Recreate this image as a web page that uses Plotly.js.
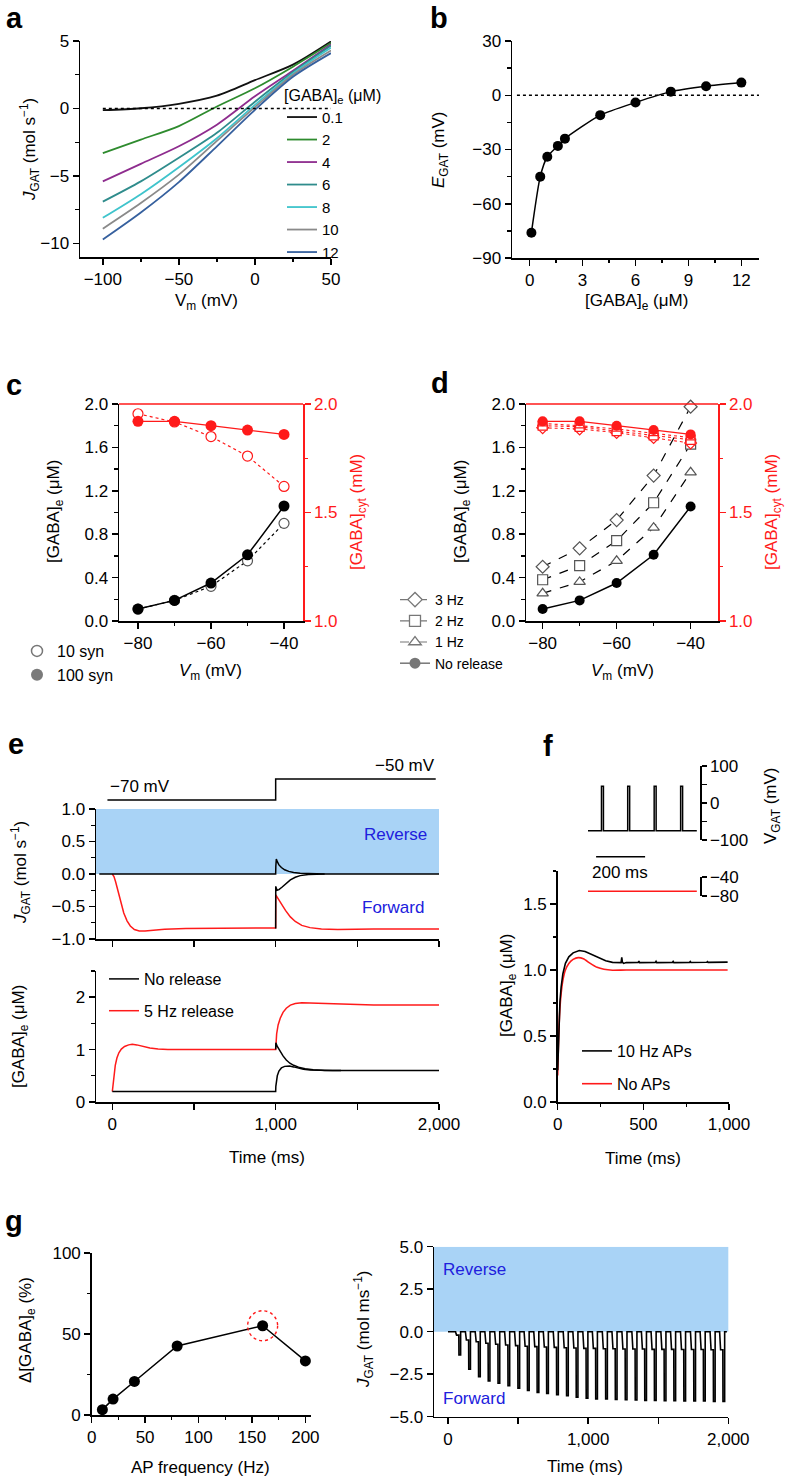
<!DOCTYPE html>
<html>
<head>
<meta charset="utf-8">
<script src="https://cdn.plot.ly/plotly-3.0.1.min.js"></script>
<style>html,body{margin:0;padding:0;background:#fff}#chart{width:786px;height:1480px}</style>
</head>
<body>
<div id="chart"></div>
<script>
// ---------------- DATA ----------------
// Panel a: J_GAT vs Vm for several [GABA]e
const aVm = [-100, -75, -50, -25, 0, 25, 50];
const aGabaLabels = ['0.1', '2', '4', '6', '8', '10', '12'];
const aJ01 = [-0.12, 0.02, 0.35, 0.95, 2.1, 3.25, 4.97];
const aJ2  = [-3.3, -2.3, -1.3, 0.15, 1.5, 3.1, 4.85];
const aJ4  = [-5.4, -4.1, -2.8, -1.2, 0.9, 2.8, 4.75];
const aJ6  = [-6.9, -5.4, -3.65, -1.8, 0.5, 2.7, 4.65];
const aJ8  = [-8.1, -6.35, -4.35, -2.2, 0.27, 2.6, 4.5];
const aJ10 = [-8.9, -7.0, -4.9, -2.4, 0.1, 2.5, 4.3];
const aJ12 = [-9.7, -7.7, -5.45, -2.8, -0.1, 2.35, 4.1];

// Panel b: E_GAT vs [GABA]e
const bGaba = [0.1, 0.6, 1, 1.6, 2, 4, 6, 8, 10, 12];
const bEgat = [-76, -45, -34, -28, -24, -11, -4, 2, 5, 7];

// Panel c
const cVm = [-80, -70, -60, -50, -40];
const cGabaE100 = [0.11, 0.19, 0.35, 0.61, 1.06];
const cGabaE10  = [0.11, 0.19, 0.32, 0.555, 0.90];
const cCyt100   = [1.92, 1.92, 1.90, 1.88, 1.86];
const cCyt10    = [1.955, 1.917, 1.85, 1.76, 1.62];

// Panel d
const dVm = [-80, -70, -60, -50, -40];
const dNoRel = [0.11, 0.19, 0.35, 0.61, 1.055];
const d1Hz = [0.255, 0.36, 0.555, 0.86, 1.37];
const d2Hz = [0.38, 0.51, 0.74, 1.09, 1.63];
const d3Hz = [0.50, 0.67, 0.93, 1.34, 1.975];
const dCytNoRel = [1.92, 1.92, 1.90, 1.88, 1.86];
const dCyt1Hz = [1.91, 1.90, 1.885, 1.865, 1.845];
const dCyt2Hz = [1.90, 1.895, 1.875, 1.855, 1.835];
const dCyt3Hz = [1.89, 1.885, 1.868, 1.845, 1.82];

// Panel e: voltage step
const eStepT = [-30, 1000, 1000, 1980];
const eStepV = [-70, -70, -50, -50];
// Panel e upper: J_GAT
const eJBlackT = [-80, 1000, 1001, 1004, 1010, 1020, 1035, 1055, 1080, 1110, 1150, 1200, 1300, 2000];
const eJBlackY = [0, 0, 0.12, 0.23, 0.19, 0.14, 0.1, 0.065, 0.04, 0.022, 0.01, 0.003, 0, 0];
const eJBlack2T = [1000, 1000.5, 1008, 1020, 1040, 1065, 1090, 1120, 1150, 1200, 1300];
const eJBlack2Y = [-0.84, -0.19, -0.25, -0.24, -0.2, -0.14, -0.09, -0.05, -0.025, -0.008, 0];
const eJRedT = [0, 10, 20, 30, 40, 55, 70, 90, 110, 135, 165, 200, 250, 320, 450, 1000, 1000.5, 1015, 1035, 1060, 1090, 1120, 1160, 1210, 1280, 1380, 1600, 2000];
const eJRedY = [0, -0.04, -0.12, -0.22, -0.32, -0.46, -0.6, -0.72, -0.8, -0.855, -0.875, -0.875, -0.865, -0.85, -0.838, -0.83, -0.32, -0.38, -0.46, -0.56, -0.66, -0.73, -0.79, -0.825, -0.845, -0.852, -0.848, -0.845];
// Panel e lower: [GABA]e
const eGNoRelT = [0, 1000, 1001, 1005, 1010, 1020, 1035, 1055, 1085, 1110, 1140, 1170, 1210, 1270, 1350, 2000];
const eGNoRelY = [0.2, 0.2, 0.3, 0.42, 0.5, 0.59, 0.65, 0.68, 0.685, 0.67, 0.645, 0.625, 0.61, 0.602, 0.6, 0.6];
const eGBlack2T = [1000, 1001, 1010, 1025, 1045, 1065, 1087, 1110, 1140, 1180, 1230, 1300, 1400];
const eGBlack2Y = [1.0, 1.13, 1.06, 0.97, 0.88, 0.8, 0.74, 0.7, 0.665, 0.635, 0.615, 0.603, 0.6];
const eGRedT = [0, 5, 10, 18, 28, 40, 55, 75, 100, 122, 150, 185, 230, 280, 340, 1000, 1001, 1006, 1015, 1028, 1045, 1065, 1090, 1120, 1160, 1220, 1300, 1400, 1600, 2000];
const eGRedY = [0.2, 0.38, 0.53, 0.7, 0.84, 0.94, 1.01, 1.06, 1.09, 1.1, 1.09, 1.06, 1.03, 1.01, 1.0, 1.0, 1.1, 1.3, 1.47, 1.6, 1.71, 1.79, 1.85, 1.88, 1.895, 1.89, 1.875, 1.862, 1.853, 1.85];

// Panel f inset: AP train
const fSpikeT = [55, 162, 270, 378];
const fVrest = -75, fVpeak = 45, fTraceEnd = 444;
const fNoApV = -70;
// Panel f main
const fBlackT = [0, 4, 8, 13, 20, 30, 45, 65, 90, 126, 160, 200, 240, 280, 320, 360, 370, 374, 378, 385, 400, 470, 474, 478, 570, 574, 578, 670, 674, 678, 770, 774, 778, 870, 874, 878, 992];
const fBlackY = [0.24, 0.46, 0.62, 0.76, 0.87, 0.97, 1.05, 1.1, 1.13, 1.148, 1.14, 1.115, 1.09, 1.07, 1.058, 1.055, 1.056, 1.095, 1.058, 1.05, 1.056, 1.058, 1.068, 1.056, 1.058, 1.066, 1.056, 1.058, 1.065, 1.056, 1.058, 1.064, 1.057, 1.059, 1.064, 1.058, 1.06];
const fRedT = [0, 4, 8, 13, 20, 30, 45, 65, 90, 120, 150, 190, 230, 270, 320, 400, 992];
const fRedY = [0.2, 0.42, 0.58, 0.71, 0.82, 0.92, 1.0, 1.05, 1.08, 1.094, 1.085, 1.05, 1.02, 1.005, 0.998, 1.0, 1.0];

// Panel g left
const gFreq = [10, 20, 40, 80, 160, 200];
const gDelta = [3.3, 9.8, 20.7, 42.6, 55.1, 33.4];
// Panel g right: spike train of J_GAT
const gSpikeT = [78, 148, 218, 287, 357, 428, 499, 567, 636, 704, 775, 846, 915, 986, 1054, 1125, 1194, 1265, 1336, 1404, 1473, 1543, 1612, 1683, 1754, 1823, 1894, 1962];
const gSpikeDepth = [-1.37, -2.21, -2.64, -2.89, -3.03, -3.18, -3.32, -3.46, -3.57, -3.63, -3.71, -3.77, -3.85, -3.91, -3.95, -3.96, -3.98, -4.0, -4.02, -4.04, -4.04, -4.06, -4.06, -4.08, -4.08, -4.08, -4.1, -4.1];
const gPlateau = [-0.2, -0.49, -0.59, -0.68, -0.74, -0.78, -0.82, -0.86, -0.88, -0.9, -0.92, -0.94, -0.96, -0.98, -0.98, -1.0, -1.0, -1.02, -1.02, -1.02, -1.04, -1.04, -1.04, -1.05, -1.05, -1.05, -1.06, -1.06];
const gTraceEnd = 1990;

// ---------------- HELPERS ----------------
const W = 786, H = 1480;
const F = 'Liberation Sans, Arial, sans-serif';
const px = v => v / W;
const py = v => 1 - v / H;
const hdom = (a, b) => [a / W, b / W];
const vdom = (top, bottom) => [1 - bottom / H, 1 - top / H];
const RED = '#ff1a1a';
const BLUE_TXT = '#2020dd';
const TF = 17;

function ax(extra) {
  return Object.assign({
    showline: true, linecolor: '#000', linewidth: 1.5,
    ticks: 'outside', ticklen: 6, tickwidth: 1.5, tickcolor: '#000',
    showgrid: false, zeroline: false, fixedrange: true,
    tickfont: {family: F, size: TF, color: '#000'}
  }, extra);
}
function minor(dt, len) {
  return {ticks: 'outside', dtick: dt, ticklen: len || 3.5, tickwidth: 1.3, tickcolor: '#000', showgrid: false};
}

// ---------------- TRACES ----------------
const traces = [];
const aSeries = [aJ01, aJ2, aJ4, aJ6, aJ8, aJ10, aJ12];
const aColors = ['#111111', '#2e8b2e', '#8e2c8e', '#2f8c8c', '#3fc4cc', '#8a8a8a', '#36609e'];
aSeries.forEach((ys, i) => {
  traces.push({x: aVm, y: ys, xaxis: 'x', yaxis: 'y', mode: 'lines', name: aGabaLabels[i],
    line: {color: aColors[i], width: 1.8, shape: 'spline', smoothing: 0.8}, legend: 'legend'});
});

// b
traces.push({x: bGaba, y: bEgat, xaxis: 'x2', yaxis: 'y2', mode: 'lines+markers', showlegend: false,
  line: {color: '#000', width: 1.5, shape: 'spline', smoothing: 0.6}, marker: {color: '#000', size: 10}, cliponaxis: false});

// c
const openMk = (sym, col, size) => ({symbol: sym, size: size || 10, color: '#fff', line: {color: col, width: 1.2}});
traces.push({x: cVm, y: cCyt10, xaxis: 'x3', yaxis: 'y4', mode: 'lines+markers', showlegend: false, cliponaxis: false,
  line: {color: RED, width: 1.2, dash: 'dot'}, marker: openMk('circle', RED, 10)});
traces.push({x: cVm, y: cCyt100, xaxis: 'x3', yaxis: 'y4', mode: 'lines+markers', showlegend: false, cliponaxis: false,
  line: {color: RED, width: 1.3}, marker: {color: RED, size: 11}});
traces.push({x: cVm, y: cGabaE10, xaxis: 'x3', yaxis: 'y3', mode: 'lines+markers', showlegend: false, cliponaxis: false,
  line: {color: '#000', width: 1.2, dash: 'dot'}, marker: openMk('circle', '#555', 10)});
traces.push({x: cVm, y: cGabaE100, xaxis: 'x3', yaxis: 'y3', mode: 'lines+markers', showlegend: false, cliponaxis: false,
  line: {color: '#000', width: 1.5}, marker: {color: '#000', size: 11}});
// c legend entries
traces.push({x: [null], y: [null], xaxis: 'x3', yaxis: 'y3', mode: 'markers', name: '10 syn', legend: 'legend2',
  marker: {symbol: 'circle', size: 11, color: '#fff', line: {color: '#777', width: 1.5}}});
traces.push({x: [null], y: [null], xaxis: 'x3', yaxis: 'y3', mode: 'markers', name: '100 syn', legend: 'legend2',
  marker: {symbol: 'circle', size: 12, color: '#7a7a7a'}});

// d
[[dCyt3Hz, 'diamond'], [dCyt2Hz, 'square'], [dCyt1Hz, 'triangle-up']].forEach(([ys, sym]) => {
  traces.push({x: dVm, y: ys, xaxis: 'x5', yaxis: 'y6', mode: 'lines+markers', showlegend: false, cliponaxis: false,
    line: {color: RED, width: 1.1, dash: 'dot'}, marker: openMk(sym, RED, 9)});
});
traces.push({x: dVm, y: dCytNoRel, xaxis: 'x5', yaxis: 'y6', mode: 'lines+markers', showlegend: false, cliponaxis: false,
  line: {color: RED, width: 1.3}, marker: {color: RED, size: 10}});
const dSets = [[d3Hz, 'diamond', '3 Hz'], [d2Hz, 'square', '2 Hz'], [d1Hz, 'triangle-up', '1 Hz']];
dSets.forEach(([ys, sym]) => {
  traces.push({x: dVm, y: ys, xaxis: 'x5', yaxis: 'y5', mode: 'lines+markers', showlegend: false, cliponaxis: false,
    line: {color: '#000', width: 1.2, dash: 'dash'}, marker: openMk(sym, '#555', 10)});
});
traces.push({x: dVm, y: dNoRel, xaxis: 'x5', yaxis: 'y5', mode: 'lines+markers', showlegend: false, cliponaxis: false,
  line: {color: '#000', width: 1.5}, marker: {color: '#000', size: 10}});
// d legend entries
dSets.forEach(([ys, sym, nm]) => {
  traces.push({x: [null], y: [null], xaxis: 'x5', yaxis: 'y5', mode: 'lines+markers', name: nm, legend: 'legend3',
    line: {color: '#777', width: 1.2, dash: 'dash'}, marker: {symbol: sym, size: 11, color: '#fff', line: {color: '#777', width: 1.3}}});
});
traces.push({x: [null], y: [null], xaxis: 'x5', yaxis: 'y5', mode: 'lines+markers', name: 'No release', legend: 'legend3',
  line: {color: '#777', width: 1.5}, marker: {symbol: 'circle', size: 11, color: '#777'}});

// e
traces.push({x: eStepT, y: eStepV, xaxis: 'x7', yaxis: 'y8', mode: 'lines', showlegend: false, line: {color: '#000', width: 1.5}});
traces.push({x: eJRedT, y: eJRedY, xaxis: 'x7', yaxis: 'y7', mode: 'lines', showlegend: false, line: {color: RED, width: 1.5}});
traces.push({x: eJBlackT, y: eJBlackY, xaxis: 'x7', yaxis: 'y7', mode: 'lines', showlegend: false, line: {color: '#000', width: 1.5}});
traces.push({x: eJBlack2T, y: eJBlack2Y, xaxis: 'x7', yaxis: 'y7', mode: 'lines', showlegend: false, line: {color: '#000', width: 1.5}});
traces.push({x: eGRedT, y: eGRedY, xaxis: 'x9', yaxis: 'y9', mode: 'lines', name: '5 Hz release', legend: 'legend4', legendrank: 2, legendgroup: 'e2',
  line: {color: RED, width: 1.5}});
traces.push({x: eGNoRelT, y: eGNoRelY, xaxis: 'x9', yaxis: 'y9', mode: 'lines', name: 'No release', legend: 'legend4', legendrank: 1, legendgroup: 'e1',
  line: {color: '#000', width: 1.5}});
traces.push({x: eGBlack2T, y: eGBlack2Y, xaxis: 'x9', yaxis: 'y9', mode: 'lines', showlegend: false,
  line: {color: '#000', width: 1.5}});

// f inset
const fInT = [0], fInV = [fVrest];
fSpikeT.forEach(t => { fInT.push(t, t, t + 8, t + 8); fInV.push(fVrest, fVpeak, fVpeak, fVrest); });
fInT.push(fTraceEnd); fInV.push(fVrest);
traces.push({x: fInT, y: fInV, xaxis: 'x10', yaxis: 'y10', mode: 'lines', showlegend: false, line: {color: '#000', width: 1.5}});
traces.push({x: [0, fTraceEnd], y: [fNoApV, fNoApV], xaxis: 'x10', yaxis: 'y11', mode: 'lines', showlegend: false, line: {color: RED, width: 1.6}});
// f main
traces.push({x: fRedT, y: fRedY, xaxis: 'x12', yaxis: 'y12', mode: 'lines', name: 'No APs', legend: 'legend5', legendrank: 2, legendgroup: 'f2',
  line: {color: RED, width: 1.6, shape: 'spline', smoothing: 0.5}});
traces.push({x: fBlackT, y: fBlackY, xaxis: 'x12', yaxis: 'y12', mode: 'lines', name: '10 Hz APs', legend: 'legend5', legendrank: 1, legendgroup: 'f1',
  line: {color: '#000', width: 1.6}});

// g left
traces.push({x: gFreq, y: gDelta, xaxis: 'x13', yaxis: 'y13', mode: 'lines+markers', showlegend: false, cliponaxis: false,
  line: {color: '#000', width: 1.5}, marker: {color: '#000', size: 11}});
// g right
const gT = [0], gJ = [0];
gSpikeT.forEach((t, k) => {
  const p = gPlateau[k], d = gSpikeDepth[k];
  gT.push(t - 24, t - 21, t - 17, t - 1, t, t + 12, t + 12);
  gJ.push(0, 0.55 * p, p, p, d, d, 0);
});
gT.push(gTraceEnd); gJ.push(0);
traces.push({x: gT, y: gJ, xaxis: 'x14', yaxis: 'y14', mode: 'lines', showlegend: false, line: {color: '#000', width: 1.6}});

// ---------------- LAYOUT ----------------
const layout = {
  width: W, height: H, margin: {l: 0, r: 0, t: 0, b: 0},
  paper_bgcolor: '#fff', plot_bgcolor: 'rgba(0,0,0,0)',
  font: {family: F, size: TF, color: '#000'},
  showlegend: true,
  separators: '.,',
  // a
  xaxis: ax({domain: hdom(80, 331), range: [-115, 50], anchor: 'y', dtick: 50, tick0: 0, minor: minor(25)}),
  yaxis: ax({domain: vdom(41, 257), range: [-11, 5], anchor: 'x', dtick: 5, tick0: 0, minor: minor(2.5)}),
  // b
  xaxis2: ax({domain: hdom(512, 759), range: [-1, 13], anchor: 'y2', dtick: 3, tick0: 0, minor: minor(1.5)}),
  yaxis2: ax({domain: vdom(41, 258), range: [-90, 30], anchor: 'x2', dtick: 30, tick0: 0, minor: minor(15)}),
  // c
  xaxis3: ax({domain: hdom(119, 303), range: [-85.2, -34.8], anchor: 'y3', dtick: 20, tick0: -80, minor: minor(10)}),
  yaxis3: ax({domain: vdom(404, 621), range: [0, 2], anchor: 'x3', dtick: 0.4, tick0: 0, tickformat: '.1f', minor: minor(0.2)}),
  yaxis4: ax({overlaying: 'y3', side: 'right', anchor: 'x3', range: [1, 2], dtick: 0.5, tick0: 1, tickformat: '.1f',
    linecolor: RED, tickcolor: RED, tickfont: {family: F, size: TF, color: RED}, minor: Object.assign(minor(0.25), {tickcolor: RED})}),
  // d
  xaxis5: ax({domain: hdom(526, 718), range: [-84.5, -32.6], anchor: 'y5', dtick: 20, tick0: -80, minor: minor(10)}),
  yaxis5: ax({domain: vdom(404, 621), range: [0, 2], anchor: 'x5', dtick: 0.4, tick0: 0, tickformat: '.1f', minor: minor(0.2)}),
  yaxis6: ax({overlaying: 'y5', side: 'right', anchor: 'x5', range: [1, 2], dtick: 0.5, tick0: 1, tickformat: '.1f',
    linecolor: RED, tickcolor: RED, tickfont: {family: F, size: TF, color: RED}, minor: Object.assign(minor(0.25), {tickcolor: RED})}),
  // e upper
  xaxis7: ax({domain: hdom(96, 439), range: [-100, 2000], anchor: 'y7', dtick: 500, tick0: 0, showticklabels: false}),
  yaxis7: ax({domain: vdom(809, 939), range: [-1, 1], anchor: 'x7', dtick: 0.5, tick0: 0, tickformat: '.1f', minor: minor(0.25)}),
  yaxis8: {domain: vdom(770, 810), range: [-79.5, -41.4], anchor: 'x7', visible: false, fixedrange: true},
  // e lower
  xaxis9: ax({domain: hdom(96, 439), range: [-100, 2000], anchor: 'y9', dtick: 1000, tick0: 0, tickformat: ',', minor: minor(500, 6)}),
  yaxis9: ax({domain: vdom(971, 1102), range: [0, 2.5], anchor: 'x9', dtick: 1, tick0: 0, minor: minor(0.5)}),
  // f inset
  xaxis10: {domain: hdom(588, 700), range: [0, 457], anchor: 'y10', visible: false, fixedrange: true},
  yaxis10: ax({domain: vdom(766, 840), range: [-100, 100], anchor: 'x10', side: 'right', ticklen: 5,
    tickvals: [-100, 0, 100], minor: {ticks: 'outside', tickvals: [-50, 50], ticklen: 5, tickwidth: 1.3, tickcolor: '#000'}}),
  yaxis11: ax({domain: vdom(877, 896), range: [-80, -40], anchor: 'x10', side: 'right', ticklen: 5,
    tickvals: [-80, -40]}),
  // f main
  xaxis12: ax({domain: hdom(557.7, 729), range: [0, 1000], anchor: 'y12', dtick: 500, tick0: 0, tickformat: ',', minor: minor(250)}),
  yaxis12: ax({domain: vdom(871, 1102), range: [0, 1.75], anchor: 'x12', dtick: 0.5, tick0: 0, tickformat: '.1f', minor: minor(0.25)}),
  // g left
  xaxis13: ax({domain: hdom(91.7, 310.7), range: [0, 205], anchor: 'y13', dtick: 50, tick0: 0, minor: minor(25)}),
  yaxis13: ax({domain: vdom(1253, 1415), range: [0, 100], anchor: 'x13', dtick: 50, tick0: 0, minor: minor(25)}),
  // g right
  xaxis14: ax({domain: hdom(434, 728.3), range: [-100, 2000], anchor: 'y14', dtick: 1000, tick0: 0, tickformat: ',', minor: minor(500, 6)}),
  yaxis14: ax({domain: vdom(1246.7, 1416.7), range: [-5, 5], anchor: 'x14', dtick: 2.5, tick0: 0, tickformat: '.1f'}),

  legend: {x: px(282), y: py(80), xanchor: 'left', yanchor: 'top', bgcolor: 'rgba(0,0,0,0)', font: {family: F, size: 15},
    title: {text: '[GABA]<sub>e</sub> (μM)', font: {family: F, size: 16}, side: 'top'}, tracegroupgap: 0},
  legend2: {x: px(17), y: py(634), xanchor: 'left', yanchor: 'top', bgcolor: 'rgba(0,0,0,0)', font: {family: F, size: 16}, itemwidth: 30, tracegroupgap: 2, traceorder: 'grouped'},
  legend3: {x: px(395), y: py(584), xanchor: 'left', yanchor: 'top', bgcolor: 'rgba(0,0,0,0)', font: {family: F, size: 14}, tracegroupgap: 0},
  legend4: {x: px(104), y: py(962), xanchor: 'left', yanchor: 'top', bgcolor: 'rgba(0,0,0,0)', font: {family: F, size: 16}, traceorder: 'grouped', tracegroupgap: 8},
  legend5: {x: px(577), y: py(1034), xanchor: 'left', yanchor: 'top', bgcolor: 'rgba(0,0,0,0)', font: {family: F, size: 16}, traceorder: 'grouped', tracegroupgap: 9},

  shapes: [],
  annotations: []
};

// reference lines, shaded areas, decorative borders
layout.shapes.push({type: 'line', xref: 'x', yref: 'y', x0: -100, x1: 50, y0: 0, y1: 0, line: {color: '#000', width: 1.5, dash: 'dot'}});
layout.shapes.push({type: 'line', xref: 'x2 domain', yref: 'y2', x0: 0.02, x1: 1, y0: 0, y1: 0, line: {color: '#000', width: 1.5, dash: 'dot'}});
layout.shapes.push({type: 'line', xref: 'x3 domain', yref: 'y3 domain', x0: 0, x1: 1, y0: 1, y1: 1, line: {color: RED, width: 1.5}});
layout.shapes.push({type: 'line', xref: 'x5 domain', yref: 'y5 domain', x0: 0, x1: 1, y0: 1, y1: 1, line: {color: RED, width: 1.5}});
layout.shapes.push({type: 'rect', xref: 'x7 domain', yref: 'y7', x0: 0, x1: 1, y0: 0, y1: 1, fillcolor: '#a9d3f6', line: {width: 0}, layer: 'below'});
layout.shapes.push({type: 'rect', xref: 'x14 domain', yref: 'y14', x0: 0, x1: 1, y0: 0, y1: 5, fillcolor: '#a9d3f6', line: {width: 0}, layer: 'below'});
// 200 ms scale bar in f inset
layout.shapes.push({type: 'line', xref: 'x10', yref: 'paper', x0: 33, x1: 233, y0: py(856.7), y1: py(856.7), line: {color: '#000', width: 1.5}});
// dashed circle around the max of g left
const gMaxIdx = gDelta.indexOf(Math.max(...gDelta));
layout.shapes.push({type: 'circle', xref: 'x13', yref: 'y13', xsizemode: 'pixel', ysizemode: 'pixel',
  xanchor: gFreq[gMaxIdx], yanchor: gDelta[gMaxIdx], x0: -15, x1: 15, y0: -15, y1: 15, line: {color: RED, width: 1.4, dash: 'dot'}});

function ann(text, x, y, opts) {
  layout.annotations.push(Object.assign({text: text, xref: 'paper', yref: 'paper', x: px(x), y: py(y),
    xanchor: 'center', yanchor: 'middle', showarrow: false, font: {family: F, size: TF, color: '#000'}}, opts || {}));
}
const lbl = {yanchor: 'top', font: {family: F, size: 29, color: '#000'}};
ann('<b>a</b>', 14, 0, lbl);
ann('<b>b</b>', 439, 0, lbl);
ann('<b>c</b>', 14, 367, lbl);
ann('<b>d</b>', 440, 365, lbl);
ann('<b>e</b>', 16, 726, lbl);
ann('<b>f</b>', 548, 728, lbl);
ann('<b>g</b>', 14, 1203, lbl);

const rot = {textangle: -90};
// a
ann('<i>J</i><sub>GAT</sub> (mol s<sup>−1</sup>)', 30, 150, rot);
ann('V<sub>m</sub> (mV)', 206, 302);
// b
ann('<i>E</i><sub>GAT</sub> (mV)', 440, 150, rot);
ann('[GABA]<sub>e</sub> (μM)', 636, 302);
// c
ann('[GABA]<sub>e</sub> (μM)', 55, 512, rot);
ann('[GABA]<sub>cyt</sub> (mM)', 358, 512, Object.assign({}, rot, {font: {family: F, size: TF, color: RED}}));
ann('<i>V</i><sub>m</sub> (mV)', 210, 672);
// d
ann('[GABA]<sub>e</sub> (μM)', 462, 512, rot);
ann('[GABA]<sub>cyt</sub> (mM)', 773, 512, Object.assign({}, rot, {font: {family: F, size: TF, color: RED}}));
ann('<i>V</i><sub>m</sub> (mV)', 622, 672);
// e
ann('−70 mV', 140, 786);
ann('−50 mV', 405, 765);
ann('Reverse', 395, 835, {font: {family: F, size: TF, color: BLUE_TXT}});
ann('Forward', 393, 908, {font: {family: F, size: TF, color: BLUE_TXT}});
ann('<i>J</i><sub>GAT</sub> (mol s<sup>−1</sup>)', 20, 873, rot);
ann('[GABA]<sub>e</sub> (μM)', 20, 1037, rot);
ann('Time (ms)', 267, 1157);
// f
ann('200 ms', 620, 872);
ann('V<sub>GAT</sub> (mV)', 772, 806, rot);
ann('[GABA]<sub>e</sub> (μM)', 508, 986, rot);
ann('Time (ms)', 643, 1158);
// g
ann('Δ[GABA]<sub>e</sub> (%)', 27, 1330, rot);
ann('AP frequency (Hz)', 200, 1467);
ann('<i>J</i><sub>GAT</sub> (mol ms<sup>−1</sup>)', 363, 1330, rot);
ann('Time (ms)', 585, 1466);
ann('Reverse', 440.7, 1269, {xanchor: 'left', font: {family: F, size: TF, color: BLUE_TXT}});
ann('Forward', 440.7, 1398, {xanchor: 'left', font: {family: F, size: TF, color: BLUE_TXT}});

Plotly.newPlot('chart', traces, layout, {staticPlot: true, displayModeBar: false});
</script>
</body>
</html>
